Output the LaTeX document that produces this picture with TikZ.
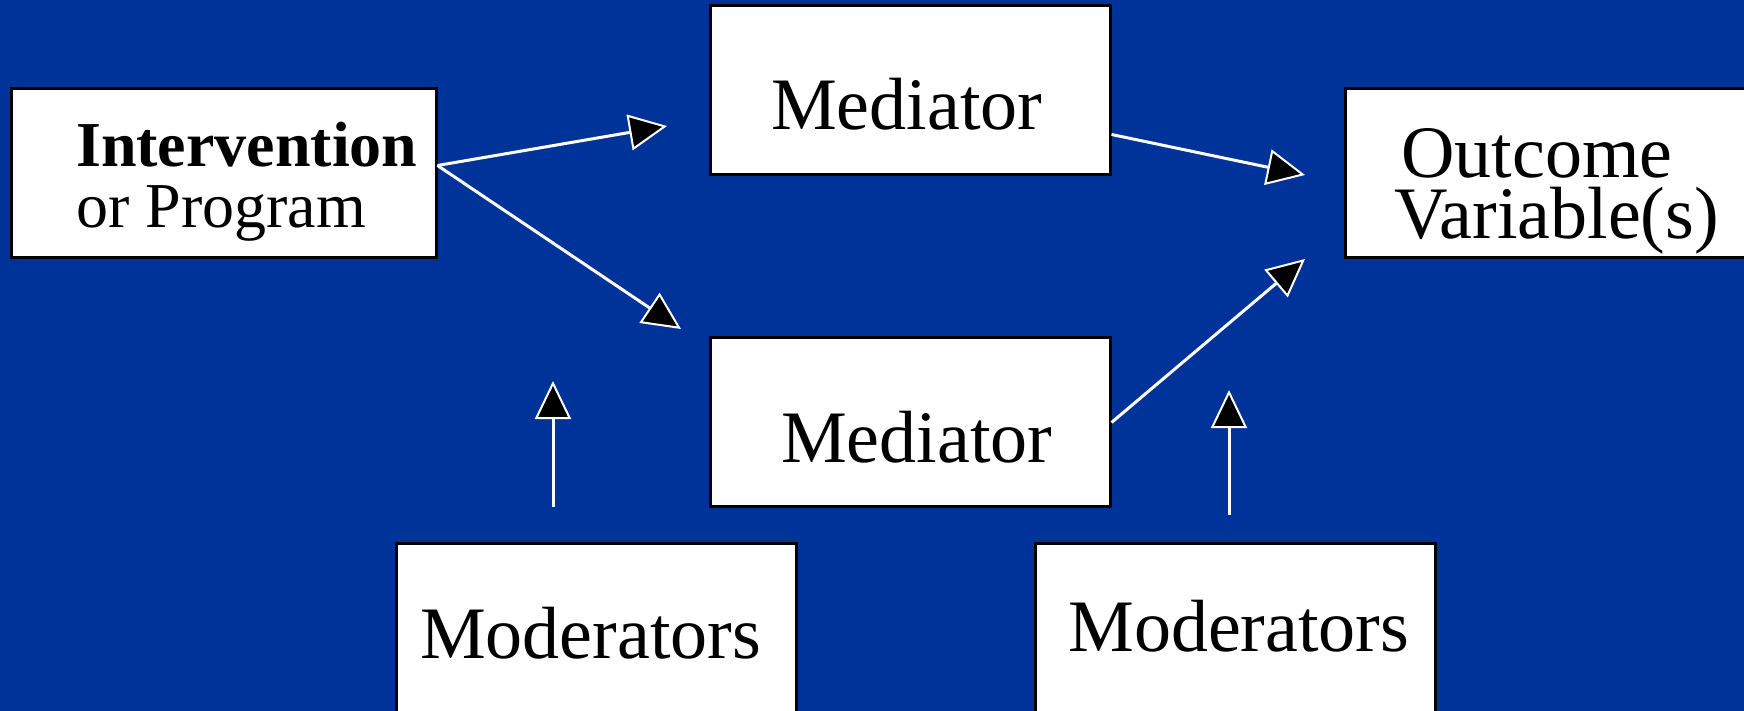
\documentclass[tikz,border=0pt]{standalone}
\usepackage{fontspec}
\setmainfont{Liberation Serif}
\usetikzlibrary{arrows.meta}
\definecolor{bg}{RGB}{0,51,153}
\begin{document}
\begin{tikzpicture}[x=1pt,y=-1pt,
 box/.style={draw=black,fill=white,line width=3pt,rectangle,inner sep=0pt},
 lbl/.style={anchor=base west,inner sep=0pt,font=\fontsize{74}{80}\selectfont},
 sml/.style={anchor=base west,inner sep=0pt,font=\fontsize{64}{70}\selectfont},
 conn/.style={draw=white,line width=3pt,-{Triangle[length=38pt,width=36pt,fill=black,line width=2pt]}}]
\fill[bg] (0,0) rectangle (1744,711);
\useasboundingbox (0,0) rectangle (1744,711);
\node[box,minimum width=425pt,minimum height=169pt] (int) at (223.5,173.5) {};
\node[box,minimum width=400pt,minimum height=169pt] (m1) at (910,90.5) {};
\node[box,minimum width=400pt,minimum height=169pt] (m2) at (910,421.5) {};
\node[box,minimum width=415pt,minimum height=169pt] (out) at (1552.5,173.5) {};
\node[box,minimum width=400pt,minimum height=197pt] (mod1) at (596,641.5) {};
\node[box,minimum width=400pt,minimum height=197pt] (mod2) at (1235.5,641.5) {};
% texts
\node[sml,font=\fontsize{64}{70}\selectfont\bfseries] (t1) at (76,167) {Intervention};
\node[sml] (t2) at (76,228) {or Program};
\node[lbl] (t3) at (771,130) {Mediator};
\node[lbl] (t4) at (781,462) {Mediator};
\node[lbl] (t5) at (1401,178) {Outcome};
\node[lbl] (t6) at (1394,239) {Variable(s)};
\node[lbl] (t7) at (420,658) {Moderators};
\node[lbl] (t8) at (1068,651) {Moderators};
% free ends
\coordinate (e1) at (667,126);
\coordinate (e2) at (681,329);
\coordinate (e3) at (1305,175);
\coordinate (e4) at (1305,259);
\coordinate (s5) at (553,507);
\coordinate (e5) at (553,381);
\coordinate (s6) at (1229,515);
\coordinate (e6) at (1229,390);
\draw[conn] ([yshift=8pt]int.east) -- (e1);
\draw[conn] ([yshift=8pt]int.east) -- (e2);
\draw[conn] ([yshift=-44pt]m1.east) -- (e3);
\draw[conn] ([yshift=-1pt]m2.east) -- (e4);
\draw[conn] (s5) -- (e5);
\draw[conn] (s6) -- (e6);
\end{tikzpicture}
\end{document}
